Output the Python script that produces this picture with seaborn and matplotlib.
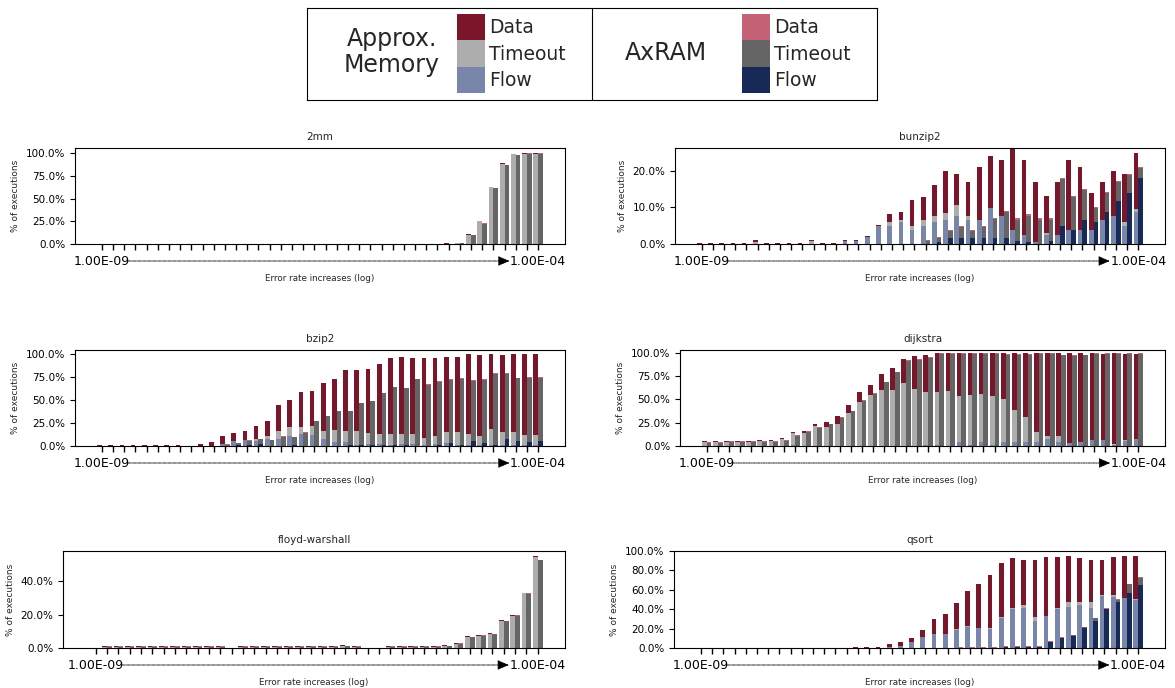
import numpy as np
import pandas as pd
import matplotlib
matplotlib.use("Agg")
import matplotlib.pyplot as plt
import seaborn as sns
from matplotlib.patches import Patch
from matplotlib.ticker import PercentFormatter, MultipleLocator

sns.set_style("ticks")
plt.rcParams['font.family'] = ['DejaVu Sans']
plt.rcParams['xtick.bottom'] = True
plt.rcParams['ytick.left'] = True

# ---------------- data ----------------
idx = list(range(40))
first_label = "1.00E-09"
last_label = "1.00E-04"
systems = ["Approx. Memory", "AxRAM"]
components = ["Flow", "Timeout", "Data"]

# 2mm
mm2_approx_flow = [0] * 40
mm2_approx_timeout = [0] * 31 + [0.3, 1.0, 10.3, 24.8, 62.3, 88.3, 98.4, 99.4, 99.4]
mm2_approx_data = [0.3] * 31 + [0.3, 0.6, 0.7, 0.8, 0.7, 0.7, 0.6, 0.6, 0.6]
mm2_axram_flow = [0] * 40
mm2_axram_timeout = [0] * 31 + [0.2, 0.6, 9.4, 22.4, 61.4, 86.4, 97.4, 99.4, 99.0]
mm2_axram_data = [0.2] * 31 + [0.3, 0.5, 0.6, 0.6, 0.6, 0.6, 0.6, 0.6, 0.6]

# bunzip2
bunzip2_approx_flow = [0, 0, 0, 0, 0, 0, 0, 0, 0, 0, 0, 0, 0, 0.7, 0.7, 1.8, 4.9, 4.8, 5.9, 3.7,
                       4.8, 5.9, 6.7, 7.8, 6.7, 6.7, 9.8, 7.8, 3.7, 2.6, 0.6, 2.6, 2.6, 3.7, 3.7, 3.7, 6.7, 7.8, 4.8, 8.9]
bunzip2_approx_timeout = [0, 0, 0, 0, 0, 0.6, 0, 0, 0, 0, 0.7, 0, 0, 0, 0, 0, 0, 1.1, 0.8, 1.1,
                          1.9, 1.9, 1.9, 3.0, 1.1, 0, 0, 0, 0, 0, 0, 0.3, 0, 0, 0, 0, 0, 0, 1.1, 0.8]
bunzip2_approx_data = [0.2, 0.2, 0.2, 0.2, 0.2, 0.4, 0.2, 0.2, 0.2, 0.2, 0.3, 0.2, 0.2, 0.3, 0.4, 0.4, 0.3, 2.2, 2.2, 7.2,
                       6.1, 8.3, 11.3, 8.3, 9.1, 14.4, 14.4, 15.2, 22.6, 20.4, 16.3, 10.2, 14.4, 19.4, 17.4, 10.3, 10.2, 12.2, 13.3, 15.2]
bunzip2_axram_flow = [0] * 21 + [0.6, 1.75, 1.75, 1.75, 1.75, 1.75, 1.75, 0.9, 0.6,
                                 0, 0.9, 4.8, 3.7, 6.7, 5.9, 8.7, 11.7, 14.0, 18.1]
bunzip2_axram_timeout = [0] * 20 + [0.7, 1.1, 1.9, 3.0, 1.9, 3.0, 5.0, 7.0, 5.8, 7.2,
                                    6.7, 5.8, 13.0, 9.1, 8.1, 3.9, 5.3, 5.3, 4.9, 2.8]
bunzip2_axram_data = [0.1] * 20 + [0.3] * 20

# bzip2
bzip2_approx_flow = [0] * 11 + [2, 5, 6, 5, 7.3, 8, 10.7, 12.9, 11.8,
                                7.3, 4.4, 4.4, 0.7, 1.8, 1.8, 0.7, 2.6, 2.6, 0.7,
                                1.8, 3.3, 1.5, 1.5, 0.7, 1.5, 1.5, 1.5, 0.7, 1.5]
bzip2_approx_timeout = [0] * 11 + [0.5, 0, 0.5, 3, 4, 8, 9.6, 7.3, 10,
                                   8.8, 13, 11.8, 15.4, 11.8, 11, 12.1, 10.3, 10.3, 8.1,
                                   8.8, 12, 14, 11.4, 10, 17.3, 14, 14, 11, 10.5]
bzip2_approx_data = [1.5] * 8 + [0.3, 2.5, 4, 8.2, 9, 9.5, 13.7, 16.3, 29, 30, 38, 38,
                                 52, 55, 66, 66, 70, 76, 82.8, 83.8, 82.7, 86.8,
                                 85, 81.4, 81.2, 87.1, 88.6, 81.2, 83.5, 84.5, 88.3, 88]
bzip2_axram_flow = [0] * 12 + [1, 1.5, 2, 0.5, 0.5, 1, 0, 0,
                               0, 0, 0.7, 0.7, 1.1, 0.7, 0.7, 1.1, 0, 0,
                               0.7, 3.3, 0.7, 5, 3.7, 0.7, 8.1, 5.9, 4.8, 5]
bzip2_axram_timeout = [0] * 11 + [1.5, 2.4, 4.2, 5.7, 5.5, 9.8, 8.7, 14.6, 27,
                                  32.2, 37.7, 37, 46, 47.5, 56.5, 63, 61.5, 72.6, 66.4,
                                  69.3, 68.5, 72.2, 65.7, 68, 77.6, 70.2, 67.6, 69.5, 69]
bzip2_axram_data = [0.1] * 11 + [0.3] * 5 + [0.4, 0.3, 0.4] + [0.5] * 7 + [0.6] * 8 + [0.7] * 6

# dijkstra
dij_approx_flow = [0, 0, 0, 0, 0, 0, 0, 0.5, 0.8, 0.5, 0, 0.5, 0, 0.5, 0.5, 0, 0.5, 0.5, 0, 0,
                   1, 1, 0.5, 4, 1, 4, 1, 4, 4, 4, 4, 7.5, 4, 3.6, 4.6, 6, 6, 1, 5, 7]
dij_approx_timeout = [4, 4, 4, 4, 4, 5, 5, 7.5, 12.7, 14, 21, 19.5, 24, 35.1, 46.5, 54.7, 59.5, 59.5, 68, 61,
                      57.4, 57.4, 59, 49.8, 53.8, 52, 52.8, 46, 34.7, 26.8, 11, 3.5, 7, 0, 0, 0.4, 0.4, 1, 1.4, 0.5]
dij_approx_data = [1, 1, 1, 1, 1, 1, 1, 1, 1.2, 1.3, 2.4, 6, 8, 8.4, 11, 10.8, 17, 24, 25.5, 36,
                   39.6, 41.6, 40.5, 46.2, 45.2, 44, 46.2, 50, 61.3, 69.2, 85, 88.6, 88.6, 96, 95, 93.6, 92.6, 98, 92.6, 91.5]
dij_axram_flow = [0] * 40
dij_axram_timeout = [3.3, 3.3, 4.3, 4.3, 4.3, 4.3, 4.3, 5.3, 10.8, 15.5, 19.3, 23.3, 30.3, 37.3, 48.3, 56.3, 68.3, 79.3, 91.3, 92.8,
                     94.6, 99.3, 99.3, 99.3, 99.3, 99.3, 99.3, 98.3, 98.3, 98.3, 98.8, 98.9, 97.3, 97.1, 97.3, 98.9, 98.9, 98.9, 98.9, 98.9]
dij_axram_data = [0.7] * 40

# floyd-warshall
fw_approx_flow = [0] * 40
fw_approx_timeout = [0] + [0.8] * 11 + [0] + [0.8] * 9 + [1.4, 0.8, 0, 0] + [0.8] * 5 + \
                    [1.2, 2.4, 6.9, 7.5, 8.5, 16.2, 19.4, 32.9, 54.6]
fw_approx_data = [0] + [0.4] * 11 + [0] + [0.4] * 9 + [0.4, 0.4, 0, 0] + [0.4] * 5 + \
                 [0.4, 0.4, 0.4, 0.4, 0.4, 0.4, 0.4, 0.4, 0.4]
fw_axram_flow = [0] * 40
fw_axram_timeout = [0] + [0.6] * 11 + [0] + [0.6] * 9 + [1.0, 0.6, 0, 0] + [0.6] * 5 + \
                   [1.0, 2.4, 6.5, 7.3, 8.3, 16.0, 19.4, 32.6, 52.6]
fw_axram_data = [0] + [0.4] * 11 + [0] + [0.4] * 9 + [0.4, 0.4, 0, 0] + [0.4] * 5 + \
                [0.4, 0.4, 0.4, 0.4, 0.4, 0.4, 0.4, 0.4, 0.4]

# qsort
qs_approx_flow = [0] * 17 + [1.5, 2.5, 6.5, 11.5, 14.5, 14.5, 19, 22, 20.5, 20, 31, 40, 41,
                             28, 32.5, 40, 42, 44, 41, 54, 53, 52, 49]
qs_approx_timeout = [0] * 23 + [1, 1, 0.5, 1, 0.5, 1, 3, 3.5, 1, 1.5, 5, 3, 6, 0.5, 2, 0, 2]
qs_approx_data = [0] * 14 + [0.7, 0.7, 1.5, 2.5, 4, 4, 7.5, 15.5, 21, 26, 35.5, 44.5, 54, 56, 52, 47,
                             59.5, 60.5, 52.5, 48, 46, 44, 36.5, 39, 43, 44]
qs_axram_flow = [0] * 27 + [1, 1, 1, 1, 6, 10.5, 12, 21, 28, 40, 47, 56.5, 65]
qs_axram_timeout = [0] * 23 + [0.5, 0.5, 0.5, 0.5, 0.5, 0.5, 0.5, 0.5, 0.3, 0.3, 1, 0.3, 2.5, 0.2, 3, 9, 7.5]
qs_axram_data = [0] * 23 + [0.5, 0.5, 0.5, 0.5, 0.5, 0.7, 0.7, 0.7, 0.7, 0.7, 0.7, 0.7, 0.8, 0.8, 0.8, 0.8, 0.8]

benchmarks = [
    ("2mm", (mm2_approx_flow, mm2_approx_timeout, mm2_approx_data),
            (mm2_axram_flow, mm2_axram_timeout, mm2_axram_data)),
    ("bunzip2", (bunzip2_approx_flow, bunzip2_approx_timeout, bunzip2_approx_data),
                (bunzip2_axram_flow, bunzip2_axram_timeout, bunzip2_axram_data)),
    ("bzip2", (bzip2_approx_flow, bzip2_approx_timeout, bzip2_approx_data),
              (bzip2_axram_flow, bzip2_axram_timeout, bzip2_axram_data)),
    ("dijkstra", (dij_approx_flow, dij_approx_timeout, dij_approx_data),
                 (dij_axram_flow, dij_axram_timeout, dij_axram_data)),
    ("floyd-warshall", (fw_approx_flow, fw_approx_timeout, fw_approx_data),
                       (fw_axram_flow, fw_axram_timeout, fw_axram_data)),
    ("qsort", (qs_approx_flow, qs_approx_timeout, qs_approx_data),
              (qs_axram_flow, qs_axram_timeout, qs_axram_data)),
]

# ---------------- style ----------------
colors = {
    "Approx. Memory": {"Data": "#7A152A", "Timeout": "#ADADAD", "Flow": "#7886AB"},
    "AxRAM": {"Data": "#C56276", "Timeout": "#656565", "Flow": "#172A57"},
}

W, H = 1175, 688
fig = plt.figure(figsize=(W / 100, H / 100), dpi=100)

# axes boxes in pixels: left, top, right, bottom
boxes = {
    "2mm": (75, 148, 565, 244),
    "bunzip2": (675, 148, 1165, 244),
    "bzip2": (75, 350, 565, 446),
    "dijkstra": (680, 350, 1165, 446),
    "floyd-warshall": (63, 551, 565, 648),
    "qsort": (674, 551, 1165, 648),
}
xlims = {"2mm": (-2.41, 41.41), "bunzip2": (-2.38, 41.38), "bzip2": (-2.41, 41.41),
         "dijkstra": (-2.42, 41.4), "floyd-warshall": (-2.88, 41.4), "qsort": (-2.41, 41.4)}
ylims = {"2mm": 105.5, "bunzip2": 26.3, "bzip2": 104.3, "dijkstra": 103.2,
         "floyd-warshall": 58.2, "qsort": 100}
ysteps = {"2mm": 25, "bunzip2": 10, "bzip2": 25, "dijkstra": 25,
          "floyd-warshall": 20, "qsort": 20}

layers = ["Data", "Timeout", "Flow"]

for name, approx, axram in benchmarks:
    l, t, r, b = boxes[name]
    ax = fig.add_axes([l / W, 1 - b / H, (r - l) / W, (b - t) / H])
    rows = []
    for sys_name, comps in zip(systems, (approx, axram)):
        f = np.array(comps[0], dtype=float)
        tm = f + np.array(comps[1], dtype=float)
        tot = tm + np.array(comps[2], dtype=float)
        for layer, arr in (("Data", tot), ("Timeout", tm), ("Flow", f)):
            for i, v in zip(idx, arr):
                rows.append({"idx": i, "system": sys_name, "layer": layer, "value": v})
    df = pd.DataFrame(rows)
    for layer in layers:
        sub = df[df["layer"] == layer]
        sns.barplot(data=sub, x="idx", y="value", hue="system", hue_order=systems,
                    palette={s: colors[s][layer] for s in systems},
                    native_scale=True, width=0.84, gap=0, dodge=True,
                    errorbar=None, saturation=1, linewidth=0, legend=False, ax=ax)
    x0, x1 = xlims[name]
    ax.set_xlim(x0, x1)
    ax.set_ylim(0, ylims[name])
    ax.yaxis.set_major_locator(MultipleLocator(ysteps[name]))
    ax.yaxis.set_major_formatter(PercentFormatter(xmax=100, decimals=1))
    ax.set_xticks(idx)
    ax.set_xticklabels([first_label] + [""] * 38 + [last_label])
    ax.tick_params(axis="x", which="major", bottom=True, direction="out", length=4.5, width=1.0,
                   labelsize=9, pad=3.5, color="black", labelcolor="black")
    ax.tick_params(axis="y", which="major", left=True, direction="out", length=3.5, width=0.8,
                   labelsize=7.5, color="black", labelcolor="black")
    for s in ax.spines.values():
        s.set_visible(True)
        s.set_color("black")
        s.set_linewidth(0.8)
    ax.set_title(name, fontsize=7.5, pad=6)
    ax.set_ylabel("% of executions", fontsize=6.5)
    ax.set_xlabel("Error rate increases (log)", fontsize=6.3, labelpad=4)
    yfrac = -(261 - 244) / (b - t)
    ax.annotate("", xy=(36.45, yfrac), xytext=(2.35, yfrac),
                xycoords=("data", "axes fraction"), textcoords=("data", "axes fraction"),
                arrowprops=dict(arrowstyle="-|>,head_length=0.7,head_width=0.3",
                                color="black", lw=0.6, linestyle=(0, (3, 1, 1, 1)),
                                shrinkA=0, shrinkB=0), annotation_clip=False)

# ---------------- legend box ----------------
lx0, ly0, lx1, ly1 = 307, 8, 877, 100
lax = fig.add_axes([lx0 / W, 1 - ly1 / H, (lx1 - lx0) / W, (ly1 - ly0) / H])
lax.set_xlim(0, 1)
lax.set_ylim(0, 1)
lax.set_xticks([])
lax.set_yticks([])
lax.tick_params(left=False, bottom=False)
for s in lax.spines.values():
    s.set_visible(True)
    s.set_color("black")
    s.set_linewidth(0.8)
lax.axvline(0.5, color="black", lw=0.8)

fs = 13.5
fs_px = fs * 100 / 72
# legend row height = fs*(0.65*hh + 0.245); want ~26.3 px per swatch
hh = (26.3 / fs_px - 0.245) / 0.65
legends = []
for k, sys_name in enumerate(systems):
    handles = [Patch(facecolor=colors[sys_name][c], edgecolor="none") for c in ["Data", "Timeout", "Flow"]]
    leg = lax.legend(handles, ["Data", "Timeout", "Flow"], loc="center left",
                     bbox_to_anchor=((457 - lx0) / (lx1 - lx0) + 0.5 * k, 0.505),
                     frameon=False, fontsize=fs, handlelength=28 / fs_px,
                     handleheight=hh, labelspacing=0,
                     handletextpad=0.22, borderpad=0, borderaxespad=0)
    legends.append(leg)
lax.add_artist(legends[0])  # second one stays as the axes legend

lax.text((392 - lx0) / (lx1 - lx0), 1 - (52 - ly0) / (ly1 - ly0), "Approx.\nMemory",
         ha="center", va="center", fontsize=17, linespacing=1.15)
lax.text((666 - lx0) / (lx1 - lx0), 1 - (53 - ly0) / (ly1 - ly0), "AxRAM",
         ha="center", va="center", fontsize=17)

fig.savefig("out.png", dpi=100, facecolor="white")
